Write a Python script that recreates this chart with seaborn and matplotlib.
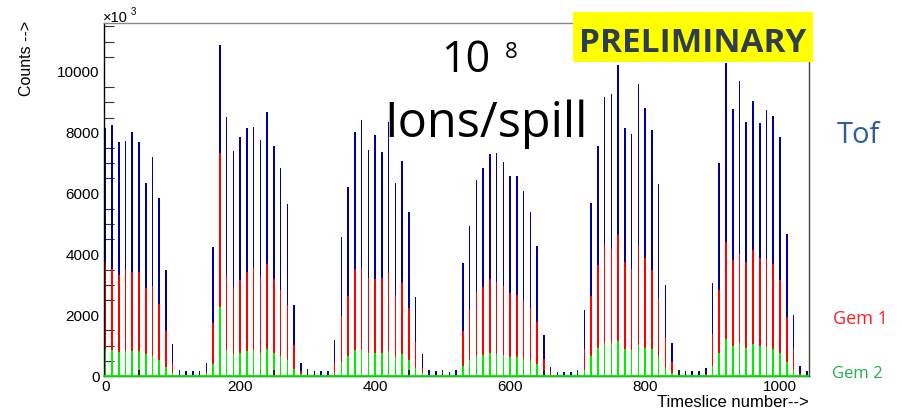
import numpy as np
import pandas as pd
import matplotlib
matplotlib.use("Agg")
import matplotlib.pyplot as plt
from matplotlib.patches import Rectangle
from matplotlib.ticker import MultipleLocator
import seaborn as sns

# Counts per timeslice, one entry every 10 timeslices (0 .. 1040)
tof = [8150, 8250, 7690, 7730, 8030, 7690, 6360, 7190, 5840, 3470,
       1060, 210, 165, 165, 165, 440, 4240, 10890, 8520, 7400,
       7860, 8170, 8190, 7760, 8680, 7570, 6850, 5660, 2330, 440,
       150, 165, 165, 165, 1170, 4570, 6220, 8040, 8420, 7420,
       7940, 7370, 8360, 6340, 7060, 5400, 2610, 730, 187, 150,
       0, 145, 200, 3710, 4920, 6440, 6850, 7290, 7320, 7030,
       6590, 6590, 6070, 5410, 4280, 1350, 300, 145, 120, 120,
       0, 2175, 5700, 7560, 9160, 9265, 10220, 8150, 7970, 9590,
       8820, 8090, 6300, 2990, 1100, 200, 165, 165, 165, 275,
       3060, 7010, 10310, 8770, 9700, 8370, 9050, 8320, 8740, 8550,
       7860, 4680, 2020, 330, 165]
gem1 = [3760, 3520, 3330, 3470, 3410, 3430, 2880, 2950, 2370, 1480,
        440, 55, 30, 30, 30, 165, 1750, 7350, 3330, 2920,
        3160, 3410, 3550, 3270, 3670, 3180, 2820, 2330, 1010, 165,
        0, 30, 0, 0, 460, 1970, 2630, 3530, 3530, 3220,
        3180, 3220, 3390, 2660, 3070, 2230, 1120, 275, 30, 0,
        0, 0, 0, 1485, 2180, 2770, 2940, 3190, 3100, 2960,
        2720, 2670, 2480, 2230, 1780, 570, 165, 0, 0, 0,
        0, 880, 2615, 3655, 4300, 4190, 4650, 3750, 3520, 4265,
        3870, 3500, 2580, 1290, 460, 0, 0, 0, 0, 60,
        1370, 2820, 4410, 3830, 4000, 3750, 4160, 3880, 3860, 3670,
        3160, 1950, 880, 110, 0]
gem2 = [900, 845, 790, 820, 820, 820, 710, 660, 530, 310,
        110, 30, 0, 0, 0, 80, 410, 2280, 845, 735,
        770, 820, 855, 770, 900, 745, 660, 530, 240, 80,
        0, 0, 0, 0, 110, 470, 660, 845, 845, 770,
        770, 770, 820, 640, 735, 530, 275, 100, 0, 0,
        0, 0, 0, 320, 520, 650, 690, 750, 740, 690,
        630, 630, 570, 500, 385, 190, 0, 0, 0, 0,
        0, 200, 655, 935, 1080, 1070, 1150, 900, 855, 1030,
        930, 900, 625, 275, 110, 0, 0, 0, 0, 0,
        330, 770, 1230, 990, 1100, 930, 1060, 990, 965, 900,
        745, 460, 200, 0, 0]
# Sparse low-level channel (timeslice, counts)
aux_slices = [50, 250, 300, 450, 500, 650, 700, 850]
aux_counts = [210, 210, 220, 200, 200, 190, 210, 200]

timeslice = [10 * i for i in range(len(tof))]
x_ticks = [0, 200, 400, 600, 800, 1000]
y_ticks = [0, 2000, 4000, 6000, 8000, 10000]

df = pd.DataFrame({"timeslice": timeslice, "Tof": tof, "Gem 1": gem1, "Gem 2": gem2})
aux = pd.DataFrame({"timeslice": aux_slices, "counts": aux_counts})

W, H = 903, 412
sns.set_style("white")
plt.rcParams["font.family"] = ["Liberation Sans", "DejaVu Sans"]
for key in ["text.color", "axes.labelcolor", "xtick.color", "ytick.color"]:
    plt.rcParams[key] = "black"

fig = plt.figure(figsize=(W / 100, H / 100), dpi=100)
ax = fig.add_axes([104.5 / W, 1 - 376 / H, (809 - 104.5) / W, (376 - 23.3) / H])


def fx(x):
    return x / W


def fy(y):
    return 1 - y / H


# bar width in timeslice units; seaborn scales `width` by the smallest spacing
bar_w = 2.3


def draw(data, col, color):
    spacing = np.diff(np.sort(data["timeslice"].unique())).min()
    sns.barplot(data=data, x="timeslice", y=col, color=color, native_scale=True,
                width=bar_w / spacing, errorbar=None, saturation=1,
                linewidth=0, ax=ax)


draw(df, "Tof", "#00009a")
draw(df, "Gem 1", "#ff0000")
draw(df, "Gem 2", "#00ee00")
draw(aux, "counts", "#222222")
ax.axhline(0, color="#00ee00", lw=1.3, zorder=5, clip_on=False)

ax.set_xlim(-1.1, 1043)
ax.set_ylim(0, 11600)
ax.set_xticks(x_ticks)
ax.set_xticklabels([str(v) for v in x_ticks])
ax.set_yticks(y_ticks)
ax.set_yticklabels([str(v) for v in y_ticks])
ax.yaxis.set_minor_locator(MultipleLocator(500))
ax.tick_params(axis="y", which="major", direction="in", length=14, width=0.8,
               color="black", labelsize=11, pad=3.6, right=False)
ax.tick_params(axis="y", which="minor", direction="in", length=7.2, width=0.8,
               color="#333333", right=False, left=True)
ax.tick_params(axis="x", which="major", direction="in", length=0,
               labelsize=11, pad=3.0)
ax.set_xlabel("")
ax.set_ylabel("")

for side, col in [("left", "black"), ("bottom", "black"), ("top", "#888888"), ("right", "#444444")]:
    ax.spines[side].set_visible(True)
    ax.spines[side].set_color(col)
    ax.spines[side].set_linewidth(1.0)

# axis titles
fig.text(fx(809), fy(407), "Timeslice number-->", ha="right", va="baseline", fontsize=12)
fig.text(fx(27), fy(21), "Counts -->", rotation=90, ha="center", va="top", fontsize=11.5)
fig.text(fx(102.5), fy(21.7), "\u00d710", ha="left", va="baseline", fontsize=10.5)
fig.text(fx(130.5), fy(15), "3", ha="left", va="baseline", fontsize=7)

# annotations
big = ["Open Sans", "DejaVu Sans"]
fig.text(fx(490), fy(71.7), "10", ha="right", va="baseline", fontsize=31, family=big)
fig.text(fx(505), fy(58), "8", ha="left", va="baseline", fontsize=16, family=big)
fig.text(fx(486), fy(136.7), "Ions/spill", ha="center", va="baseline", fontsize=35, family=big)

fig.patches.append(Rectangle((fx(573), fy(62)), (813 - 573) / W, 50 / H,
                             transform=fig.transFigure, facecolor="#ffff00",
                             edgecolor="none", zorder=3))
fig.text(fx(693), fy(51.7), "PRELIMINARY", ha="center", va="baseline", fontsize=24,
         fontweight="bold", color="#2c3e50", family=big, zorder=4)

fig.text(fx(858), fy(143), "Tof", ha="center", va="baseline", fontsize=21,
         color="#2e5e9e", family=big)
fig.text(fx(860), fy(324), "Gem 1", ha="center", va="baseline", fontsize=13,
         color="#ff2020", family=big)
fig.text(fx(857.5), fy(377.7), "Gem 2", ha="center", va="baseline", fontsize=12,
         color="#22b04a", family=big)

fig.savefig("out.png", dpi=100)
